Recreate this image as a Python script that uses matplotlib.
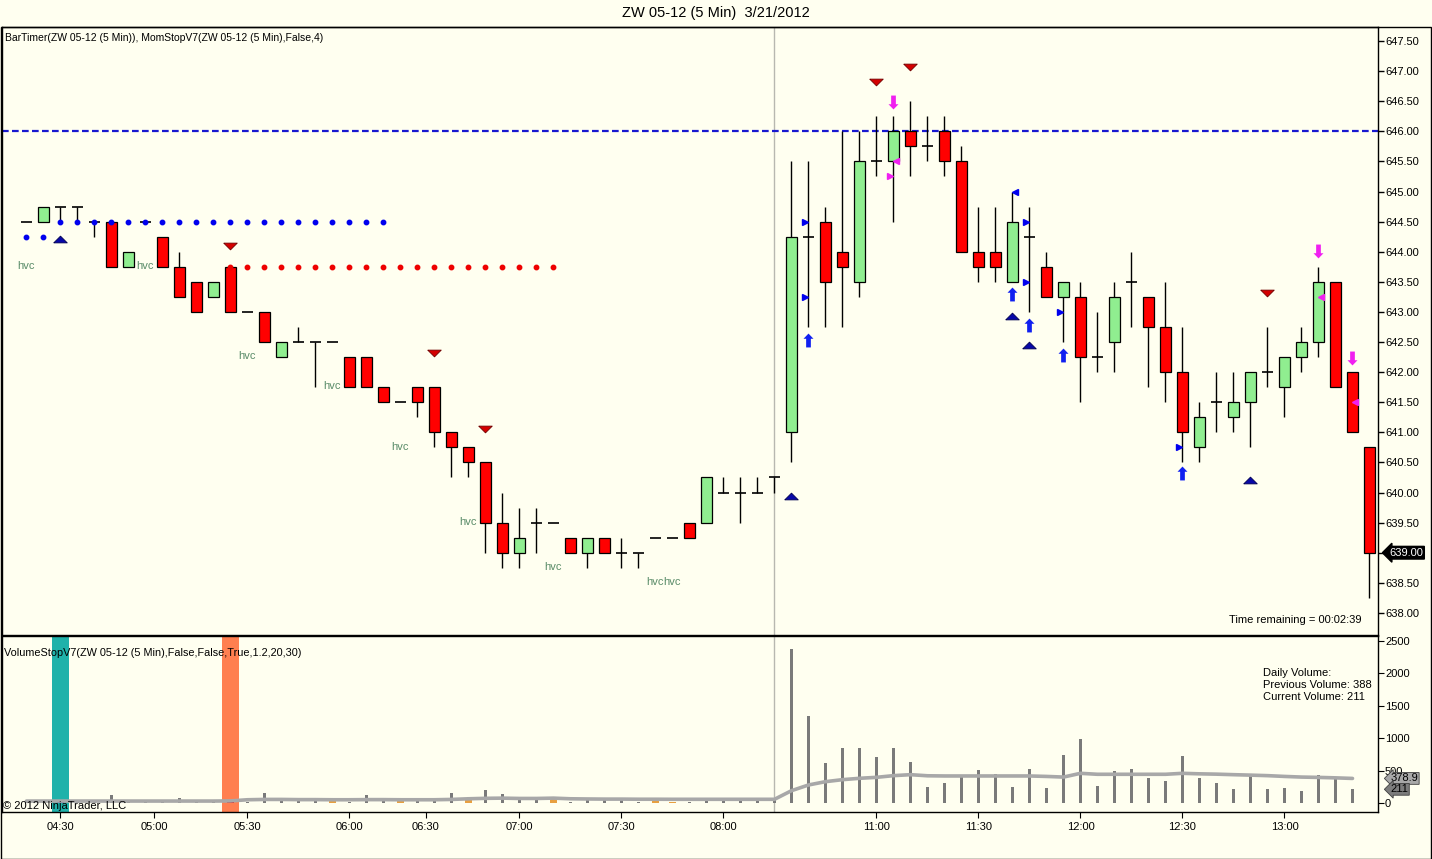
import matplotlib
matplotlib.use('Agg')
import matplotlib.pyplot as plt
from matplotlib.patches import Rectangle
from matplotlib.path import Path
from matplotlib.transforms import offset_copy

plt.rcParams['font.family'] = ['Liberation Sans', 'DejaVu Sans']

BG = '#fffff0'
W, H = 1432, 859

# OHLC per 5 min bar (bar index 0..79)
opens = [644.5, 644.5, 644.75, 644.75, 644.5, 644.5, 643.75, 644.5, 644.25, 643.75,
         643.5, 643.25, 643.75, 643.0, 643.0, 642.25, 642.5, 642.5, 642.5, 642.25,
         642.25, 641.75, 641.5, 641.75, 641.75, 641.0, 640.75, 640.5, 639.5, 639.0,
         639.5, 639.5, 639.25, 639.0, 639.25, 639.0, 639.0, 639.25, 639.25, 639.5,
         639.5, 640.0, 640.0, 640.0, 640.25, 641.0, 644.25, 644.5, 644.0, 643.5,
         645.5, 645.5, 646.0, 645.75, 646.0, 645.5, 644.0, 644.0, 643.5, 644.25,
         643.75, 643.25, 643.25, 642.25, 642.5, 643.5, 643.25, 642.75, 642.0, 640.75,
         641.5, 641.25, 641.5, 642.0, 641.75, 642.25, 642.5, 643.5, 642.0, 640.75]
highs = [644.5, 644.75, 644.75, 644.75, 644.5, 644.5, 644.0, 644.5, 644.25, 644.0,
         643.5, 643.5, 643.75, 643.0, 643.0, 642.5, 642.75, 642.5, 642.5, 642.25,
         642.25, 641.75, 641.5, 641.75, 641.75, 641.0, 640.75, 640.5, 640.0, 639.75,
         639.75, 639.5, 639.25, 639.25, 639.25, 639.25, 639.0, 639.25, 639.25, 639.5,
         640.25, 640.25, 640.25, 640.25, 640.25, 645.5, 645.5, 644.75, 646.0, 646.0,
         646.25, 646.25, 646.5, 646.25, 646.25, 645.75, 644.75, 644.75, 645.0, 644.75,
         644.0, 643.5, 643.5, 643.0, 643.5, 644.0, 643.25, 643.5, 642.75, 641.5,
         642.0, 642.0, 642.0, 642.75, 642.25, 642.75, 643.75, 643.5, 642.0, 640.75]
lows = [644.5, 644.5, 644.5, 644.5, 644.25, 643.75, 643.75, 644.5, 643.75, 643.25,
        643.0, 643.25, 643.0, 643.0, 642.5, 642.25, 642.5, 641.75, 642.5, 641.75,
        641.75, 641.5, 641.5, 641.25, 640.75, 640.25, 640.25, 639.0, 638.75, 638.75,
        639.0, 639.5, 639.0, 638.75, 639.0, 638.75, 638.75, 639.25, 639.25, 639.25,
        639.5, 640.0, 639.5, 640.0, 640.0, 640.5, 642.75, 642.75, 642.75, 643.25,
        645.25, 644.5, 645.25, 645.5, 645.25, 644.0, 643.5, 643.5, 643.5, 643.0,
        643.25, 642.5, 641.5, 642.0, 642.0, 642.75, 641.75, 641.5, 640.5, 640.5,
        641.0, 641.0, 640.75, 641.75, 641.25, 642.0, 642.25, 641.75, 641.0, 638.25]
closes = [644.5, 644.75, 644.75, 644.75, 644.5, 643.75, 644.0, 644.5, 643.75, 643.25,
          643.0, 643.5, 643.0, 643.0, 642.5, 642.5, 642.5, 642.5, 642.5, 641.75,
          641.75, 641.5, 641.5, 641.5, 641.0, 640.75, 640.5, 639.5, 639.0, 639.25,
          639.5, 639.5, 639.0, 639.25, 639.0, 639.0, 639.0, 639.25, 639.25, 639.25,
          640.25, 640.0, 640.0, 640.0, 640.25, 644.25, 644.25, 643.5, 643.75, 645.5,
          645.5, 646.0, 645.75, 645.75, 645.5, 644.0, 643.75, 643.75, 644.5, 644.25,
          643.25, 643.5, 642.25, 642.25, 643.25, 643.5, 642.75, 642.0, 641.0, 641.25,
          641.5, 641.5, 642.0, 642.0, 642.25, 642.5, 643.5, 641.75, 641.0, 639.0]

# volume (bars 0..78) and its moving average
volume = [10, 15, 25, 10, 15, 123, 20, 10, 46, 82,
          30, 46, 40, 10, 159, 46, 46, 60, 30, 20,
          123, 46, 30, 60, 46, 150, 60, 200, 140, 60,
          46, 60, 15, 60, 46, 46, 20, 40, 15, 15,
          60, 46, 46, 46, 46, 2376, 1343, 622, 854, 854,
          715, 854, 633, 252, 314, 422, 509, 447, 252, 530,
          237, 740, 993, 268, 494, 530, 391, 345, 725, 391,
          314, 216, 432, 216, 237, 190, 432, 406, 211]
vol_avg = [30, 30, 30, 30, 30, 30, 30, 30, 30, 30,
           30, 30, 32, 50, 55, 55, 52, 52, 50, 50,
           52, 52, 50, 50, 50, 55, 65, 72, 75, 70,
           70, 75, 65, 62, 60, 60, 58, 58, 57, 57,
           57, 57, 57, 57, 57, 190, 278, 329, 360, 381,
           396, 422, 437, 420, 417, 417, 417, 417, 417, 417,
           410, 400, 458, 443, 443, 443, 443, 443, 458, 450,
           445, 437, 430, 422, 410, 400, 395, 388, 379]

tick_pos = [2, 7.5, 13, 19, 23.5, 29, 35, 41, 50, 56, 62, 68, 74]
tick_lbl = ['04:30', '05:00', '05:30', '06:00', '06:30', '07:00', '07:30', '08:00',
            '11:00', '11:30', '12:00', '12:30', '13:00']

hvc_bars = [0, 7, 13, 18, 22, 26, 31, 37, 38]
orange_vol_bars = [18, 22, 26, 31, 37, 38]
blue_stop = [(0, 1, 644.25), (2, 21, 644.5)]
red_stop = [(12, 31, 643.75)]

dn_tri = [(12, 644.09), (24, 642.31), (27, 641.06), (50, 646.82), (52, 647.07), (73, 643.31)]
up_tri = [(2, 644.21), (45, 639.95), (58, 642.93), (59, 642.45), (72, 640.2)]
up_arrow = [(46, 642.54), (58, 643.29), (59, 642.79), (61, 642.29), (68, 640.33)]
dn_arrow = [(51, 646.49), (76, 644.01), (78, 642.24)]
blue_right = [(46, 644.5), (46, 643.25), (59, 644.5), (59, 643.5), (61, 643.0), (68, 640.75)]
blue_left = [(58, 645.0)]
mag_left = [(51, 645.5), (76, 643.25), (78, 641.5)]
mag_right = [(51, 645.25)]

session_break = 44
resist = 646.0
last_price = 639.00

fig = plt.figure(figsize=(W / 100, H / 100), dpi=100, facecolor=BG)
ax = fig.add_axes([2 / W, 1 - 635 / H, 1376 / W, 608 / H], facecolor=BG)
axv = fig.add_axes([2 / W, 1 - 812 / H, 1376 / W, 176 / H], facecolor=BG, sharex=ax)

# candles
for i in range(len(opens)):
    o, h, l, c = opens[i], highs[i], lows[i], closes[i]
    ax.vlines(i, l, h, color='black', lw=1, zorder=3)
    if c == o:
        ax.hlines(o, i - 0.32, i + 0.32, color='black', lw=1.2, zorder=3)
    else:
        fc = '#90ee90' if c > o else '#ff0000'
        ax.add_patch(Rectangle((i - 0.3, min(o, c)), 0.6, abs(c - o), fc=fc,
                               ec='black', lw=0.9, zorder=4))

# stop dots
for a, b, lvl in blue_stop:
    xs = list(range(a, b + 1))
    ax.plot(xs, [lvl] * len(xs), 'o', color='#0000ee', ms=3.2, zorder=5)
for a, b, lvl in red_stop:
    xs = list(range(a, b + 1))
    ax.plot(xs, [lvl] * len(xs), 'o', color='#ee0000', ms=3.2, zorder=5)

ax.axhline(resist, color='#1818d0', lw=1.6, ls=(0, (3, 1.5)), zorder=2)
ax.axvline(session_break, color='#b8b8b0', lw=1, zorder=1)
axv.axvline(session_break, color='#b8b8b0', lw=1, zorder=1)

tri_up = Path([(-1, -0.5), (1, -0.5), (0, 0.5), (-1, -0.5)])
tri_dn = Path([(-1, 0.5), (1, 0.5), (0, -0.5), (-1, 0.5)])
arr_up = Path([(-0.34, -1), (0.34, -1), (0.34, 0.25), (0.72, 0.25), (0, 1), (-0.72, 0.25),
               (-0.34, 0.25), (-0.34, -1)])
arr_dn = Path([(-0.34, 1), (0.34, 1), (0.34, -0.25), (0.72, -0.25), (0, -1), (-0.72, -0.25),
               (-0.34, -0.25), (-0.34, 1)])

def pts(lst):
    return [p[0] for p in lst], [p[1] for p in lst]

x, y = pts(dn_tri)
ax.scatter(x, y, marker=tri_dn, s=95, c='#d40000', edgecolors='#700000', lw=0.6, zorder=6)
x, y = pts(up_tri)
ax.scatter(x, y, marker=tri_up, s=95, c='#0808a8', edgecolors='#000050', lw=0.6, zorder=6)
x, y = pts(up_arrow)
ax.scatter(x, y, marker=arr_up, s=100, c='#1020f0', lw=0, zorder=6)
x, y = pts(dn_arrow)
ax.scatter(x, y, marker=arr_dn, s=100, c='#f020f0', lw=0, zorder=6)

left_tr = offset_copy(ax.transData, fig=fig, x=-3, y=0, units='dots')
right_tr = offset_copy(ax.transData, fig=fig, x=3, y=0, units='dots')
x, y = pts(blue_right)
ax.plot(x, y, '>', color='#0000ee', ms=5, ls='none', transform=left_tr, zorder=6)
x, y = pts(blue_left)
ax.plot(x, y, '<', color='#0000ee', ms=5, ls='none', transform=right_tr, zorder=6)
x, y = pts(mag_left)
ax.plot(x, y, '<', color='#f020f0', ms=5, ls='none', transform=right_tr, zorder=6)
x, y = pts(mag_right)
ax.plot(x, y, '>', color='#f020f0', ms=5, ls='none', transform=left_tr, zorder=6)

for i in hvc_bars:
    ax.annotate('hvc', (i, lows[i]), xytext=(0, -32), textcoords='offset points',
                ha='center', va='center', fontsize=8, color='#5a8c69')

ax.set_ylim(637.633, 647.733)
ax.set_yticks([638 + 0.5 * k for k in range(20)])
ax.yaxis.tick_right()
# the last-price marker sits where the 639.00 tick label would be
ax.yaxis.set_major_formatter(matplotlib.ticker.FuncFormatter(
    lambda v, p: '' if abs(v - last_price) < 1e-6 else f'{v:.2f}'))
ax.tick_params(axis='y', direction='out', length=4, pad=1, labelsize=8, width=1)
ax.tick_params(axis='x', bottom=False, labelbottom=False)
ax.annotate(f'{last_price:.2f}', xy=(1, last_price), xycoords=('axes fraction', 'data'),
            xytext=(8, 0), textcoords='offset points', ha='left', va='center',
            color='white', fontsize=8,
            bbox=dict(boxstyle='larrow,pad=0.12', fc='black', ec='black'), zorder=10)

# volume panel
colors = ['#7a7a7a'] * len(volume)
widths = [0.13] * len(volume)
for i in orange_vol_bars:
    colors[i] = '#e8a040'
    widths[i] = 0.38
colors[2] = '#1414a0'
widths[2] = 0.38
colors[12] = '#e00000'
widths[12] = 0.38
axv.axvspan(1.5, 2.5, color='#20b2aa', lw=0, zorder=1)
axv.axvspan(11.5, 12.5, color='#ff7f50', lw=0, zorder=1)
axv.bar(range(len(volume)), volume, width=widths, color=colors, zorder=3)
axv.plot(range(len(vol_avg)), vol_avg, color='#a8a8a8', lw=2.6, zorder=4,
         solid_capstyle='round')
axv.set_ylim(-139, 2577)
axv.set_yticks([0, 500, 1000, 1500, 2000, 2500])
axv.yaxis.tick_right()
axv.tick_params(axis='y', direction='out', length=4, pad=1, labelsize=8)
axv.set_xticks(tick_pos)
axv.set_xticklabels(tick_lbl)
axv.tick_params(axis='x', direction='out', length=4, pad=3, labelsize=8)
axv.set_xlim(-1.44, 79.5)
axv.annotate('378.9', xy=(1, 378.9), xycoords=('axes fraction', 'data'),
             xytext=(9, 0), textcoords='offset points', ha='left', va='center',
             fontsize=8, color='black',
             bbox=dict(boxstyle='larrow,pad=0.08', fc='#a8a8a8', ec='#404040', lw=0.6), zorder=10)
axv.annotate('211', xy=(1, 211), xycoords=('axes fraction', 'data'),
             xytext=(9, 0), textcoords='offset points', ha='left', va='center',
             fontsize=8, color='black',
             bbox=dict(boxstyle='larrow,pad=0.08', fc='#7c7c7c', ec='#404040', lw=0.6), zorder=10)

for a in (ax, axv):
    for s in a.spines.values():
        s.set_color('black')
        s.set_linewidth(1)

def ftxt(px, py, s, **kw):
    fig.text(px / W, 1 - py / H, s, va='center', **kw)

ftxt(716, 13, 'ZW 05-12 (5 Min)  3/21/2012', ha='center', fontsize=10.5)
ftxt(5, 38, 'BarTimer(ZW 05-12 (5 Min)), MomStopV7(ZW 05-12 (5 Min),False,4)', fontsize=7.5)
ftxt(1229, 620, 'Time remaining = 00:02:39', fontsize=8)
ftxt(4, 653, 'VolumeStopV7(ZW 05-12 (5 Min),False,False,True,1.2,20,30)', fontsize=7.8)
ftxt(1263, 673, 'Daily Volume:', fontsize=8)
ftxt(1263, 685, 'Previous Volume: 388', fontsize=8)
ftxt(1263, 697, 'Current Volume: 211', fontsize=8)
ftxt(3, 806, '\u00a9 2012 NinjaTrader, LLC', fontsize=8)

fig.add_artist(Rectangle((0.5 / W, 0.5 / H), (W - 1.5) / W, (H - 27.5) / H,
                         transform=fig.transFigure, fill=False, ec='black', lw=1))

fig.savefig('out.png', dpi=100, facecolor=BG)
